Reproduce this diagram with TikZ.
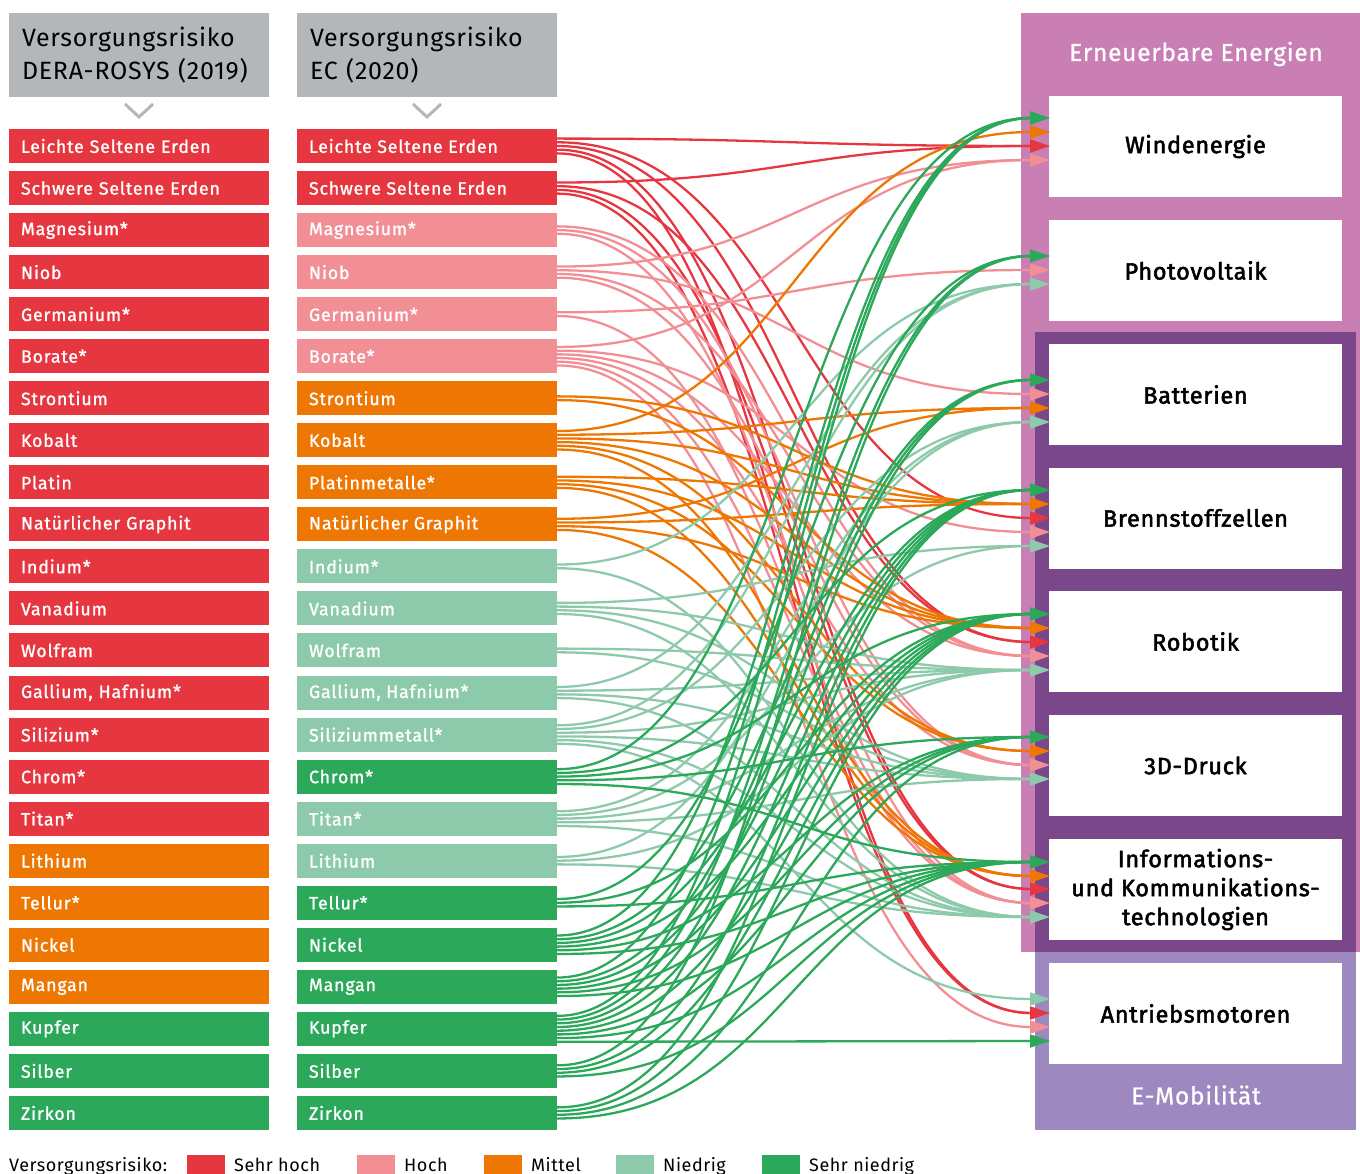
\documentclass[tikz,border=0pt]{standalone}
\usepackage{fontspec}
\setmainfont{Fira Sans}
\newfontfamily\matfont{Fira Sans}[FakeBold=1.2,LetterSpace=4.5]
\newfontfamily\hdrfont{Fira Sans}[LetterSpace=3]
\newfontfamily\tgtfont{Fira Sans}[FakeBold=2.2,LetterSpace=3]
\newfontfamily\grpfont{Fira Sans}[FakeBold=0.8,LetterSpace=3]
\newfontfamily\legfont{Fira Sans}[LetterSpace=3]
\usetikzlibrary{calc}
\definecolor{cR}{HTML}{E63740}
\definecolor{cP}{HTML}{F18F95}
\definecolor{cO}{HTML}{EE7603}
\definecolor{cL}{HTML}{8DCAAB}
\definecolor{cG}{HTML}{2BA85A}
\definecolor{hdrgray}{HTML}{B3B7BA}
\definecolor{bgpink}{HTML}{C97FB4}
\definecolor{bgpurple}{HTML}{7A488A}
\definecolor{bglav}{HTML}{9D89C0}
\newcommand\flows[3]{%
  \foreach \t [count=\i] in {#3} {\xdef\nflow{\i}}%
  \foreach \t [count=\i] in {#3} {%
    \pgfmathsetmacro\off{(\i-(\nflow+1)/2)*3.7}%
    \draw[flow,draw=#2] ($(#1.east)+(0,\off)$) .. controls +(237,0) and +(-237,0) .. (\t-#2);
  }}
\begin{document}
\begin{tikzpicture}[x=1pt,y=-1pt,
  flow/.style={line width=2.3pt},
  matbox/.style={fill=#1, minimum width=260pt, minimum height=34pt, text width=236pt,
    inner xsep=12pt, inner ysep=0pt, align=left, text=white,
    font=\matfont\fontsize{17.8}{20}\selectfont},
  hdr/.style={fill=hdrgray, minimum width=260pt, minimum height=84pt, text width=234pt,
    inner xsep=13pt, align=left, font=\hdrfont\fontsize{25}{33}\selectfont},
  chev/.style={draw=hdrgray, line width=3pt},
  tbox/.style={fill=white, minimum width=293pt, minimum height=101pt, inner sep=0pt,
    align=center, font=\tgtfont\fontsize{23.5}{29}\selectfont},
  grp/.style={text=white, font=\grpfont\fontsize{24.5}{28}\selectfont},
  leg/.style={anchor=base west, font=\legfont\fontsize{18}{20}\selectfont, inner sep=0pt}]
\useasboundingbox (0,0) rectangle (1360,1174);
\clip (0,0) rectangle (1360,1174);

% headers
\node[hdr] (h1) at (139,55) {Versorgungsrisiko\\DERA-ROSYS (2019)};
\node[hdr] (h2) at (427,55) {Versorgungsrisiko\\EC (2020)};
\draw[chev] (125,104) -- (139,117) -- (153,104);
\draw[chev] (413,104) -- (427,117) -- (441,104);

% material columns
\foreach \name/\ca/\cb [count=\i] in {
  Leichte Seltene Erden/cR/cR, Schwere Seltene Erden/cR/cR, Magnesium*/cR/cP,
  Niob/cR/cP, Germanium*/cR/cP, Borate*/cR/cP, Strontium/cR/cO, Kobalt/cR/cO,
  Platin/cR/cO, Natürlicher Graphit/cR/cO, Indium*/cR/cL, Vanadium/cR/cL,
  Wolfram/cR/cL, {Gallium, Hafnium*}/cR/cL, Silizium*/cR/cL, Chrom*/cR/cG,
  Titan*/cR/cL, Lithium/cO/cL, Tellur*/cO/cG, Nickel/cO/cG, Mangan/cO/cG,
  Kupfer/cG/cG, Silber/cG/cG, Zirkon/cG/cG} {
  \node[matbox=\ca] (d\i) at (139,{146+42.04*(\i-1)}) {\name};
  \node[matbox=\cb] (e\i) at (427,{146+42.04*(\i-1)}) {};
}
\foreach \name [count=\i] in {Leichte Seltene Erden, Schwere Seltene Erden, Magnesium*,
  Niob, Germanium*, Borate*, Strontium, Kobalt, Platinmetalle*, Natürlicher Graphit,
  Indium*, Vanadium, Wolfram, {Gallium, Hafnium*}, Siliziummetall*, Chrom*, Titan*,
  Lithium, Tellur*, Nickel, Mangan, Kupfer, Silber, Zirkon}
  \node[text=white, anchor=west, inner sep=0pt, font=\matfont\fontsize{17.8}{20}\selectfont] (el\i) at ($(e\i.west)+(12,0)$) {\name};

% right panels
\fill[bgpink] (1021,13) rectangle (1360,952);
\fill[bgpurple] (1035,332) rectangle (1356,952);
\fill[bglav] (1035,952) rectangle (1356,1130);
\node[grp] (gEE) at (1196,54) {Erneuerbare Energien};
\node[grp] (gEM) at (1196,1095) {E-Mobilität};

\node[tbox] (wind) at (1195.5,146.5) {Windenergie};
\node[tbox] (pv) at (1195.5,270.5) {Photovoltaik};
\node[tbox] (bat) at (1195.5,394.5) {Batterien};
\node[tbox] (bz) at (1195.5,518) {Brennstoffzellen};
\node[tbox] (rob) at (1195.5,641.5) {Robotik};
\node[tbox] (druck) at (1195.5,765.5) {3D-Druck};
\node[tbox] (ikt) at (1195.5,889.5) {Informations-\\und Kommunikations-\\technologien};
\node[tbox] (ant) at (1195.5,1013.5) {Antriebsmotoren};

% arrow end points
\foreach \n/\c/\y in {wind/cG/118, wind/cO/132, wind/cR/146, wind/cP/160,
  pv/cG/256, pv/cP/270, pv/cL/284,
  bat/cG/380, bat/cP/394, bat/cO/408, bat/cL/422,
  bz/cG/490, bz/cO/504, bz/cR/518, bz/cP/532, bz/cL/546,
  rob/cG/614, rob/cO/628, rob/cR/642, rob/cP/656, rob/cL/670,
  druck/cG/737, druck/cO/751, druck/cP/765, druck/cL/779,
  ikt/cG/862, ikt/cO/876, ikt/cR/889, ikt/cP/903, ikt/cL/917,
  ant/cL/999, ant/cR/1013, ant/cP/1027, ant/cG/1041}
  \coordinate (\n-\c) at (1031,\y);

% flows
\flows{e1}{cR}{wind,bz,rob,ikt,ant}
\flows{e2}{cR}{wind,rob,ikt,ant}
\flows{e3}{cP}{rob,druck,ikt}
\flows{e4}{cP}{wind,bat,rob,druck}
\flows{e5}{cP}{pv,ikt}
\flows{e6}{cP}{wind,bz,rob,druck,ikt,ant}
\flows{e7}{cO}{bz,rob}
\flows{e8}{cO}{wind,bat,bz,rob,druck,ikt}
\flows{e9}{cO}{bz,rob,druck,ikt}
\flows{e10}{cO}{bat,bz,rob,ikt}
\flows{e11}{cL}{pv,ikt}
\flows{e12}{cL}{bz,rob,druck,ikt}
\flows{e13}{cL}{rob,druck}
\flows{e14}{cL}{pv,rob,druck,ikt}
\flows{e15}{cL}{pv,bat,rob,druck,ikt,ant}
\flows{e17}{cL}{bat,bz,rob,druck,ikt}
\flows{e18}{cL}{bat,rob,ikt}
\flows{e16}{cG}{wind,bz,rob,druck,ikt}
\flows{e19}{cG}{pv,rob,ikt}
\flows{e20}{cG}{wind,bat,bz,rob,druck,ikt}
\flows{e21}{cG}{wind,bat,bz,rob,druck,ikt}
\flows{e22}{cG}{wind,pv,bat,bz,rob,druck,ikt,ant}
\flows{e23}{cG}{pv,bz,rob,ikt}
\flows{e24}{cG}{bz,rob,druck,ikt}

% arrow tips
\foreach \n/\c in {wind/cG, wind/cO, wind/cR, wind/cP, pv/cG, pv/cP, pv/cL,
  bat/cG, bat/cP, bat/cO, bat/cL, bz/cG, bz/cO, bz/cR, bz/cP, bz/cL,
  rob/cG, rob/cO, rob/cR, rob/cP, rob/cL, druck/cG, druck/cO, druck/cP, druck/cL,
  ikt/cG, ikt/cO, ikt/cR, ikt/cP, ikt/cL, ant/cL, ant/cR, ant/cP, ant/cG}
  \fill[\c] ($(\n-\c)+(-1,-6.8)$) -- ($(\n-\c)+(19,0)$) -- ($(\n-\c)+(-1,6.8)$) -- cycle;

% legend
\node[leg] (lt) at (9,1171) {Versorgungsrisiko:};
\foreach \c/\x/\txt in {cR/187/Sehr hoch, cP/357/Hoch, cO/484/Mittel, cL/616/Niedrig, cG/762/Sehr niedrig} {
  \fill[\c] (\x,1155) rectangle ++(38,22);
  \node[leg] at (\x+47,1171) {\txt};
}
\end{tikzpicture}
\end{document}
